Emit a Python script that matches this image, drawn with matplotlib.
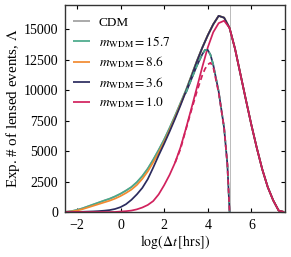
import matplotlib
matplotlib.use("Agg")
import matplotlib.pyplot as plt

plt.rcParams['font.family'] = ['Liberation Serif', 'DejaVu Serif']
plt.rcParams['mathtext.fontset'] = 'stix'

# ---- data ----
x_rise = [-2.5, -2.25, -2.0, -1.75, -1.5, -1.25, -1.0, -0.75, -0.5, -0.25,
          0.0, 0.25, 0.5, 0.75, 1.0, 1.25, 1.5, 1.75, 2.0, 2.25,
          2.5, 2.75, 3.0, 3.25, 3.5, 3.75, 4.0, 4.25, 4.5, 4.75]
x_tail = [5.0, 5.25, 5.5, 5.75, 6.0, 6.25, 6.5, 6.75, 7.0, 7.25, 7.5]

tail = [15100, 13400, 11300, 9200, 7150, 5250, 3500, 2050, 960, 120, 0]

cdm_rise = [20, 70, 170, 300, 460, 620, 780, 940, 1090, 1280,
            1500, 1760, 2050, 2450, 2950, 3560, 4300, 5100, 5950, 6900,
            7900, 8950, 10000, 11200, 12400, 13500, 14500, 15400, 16100, 15950]
m157_rise = [20, 70, 170, 300, 460, 620, 780, 940, 1090, 1280,
             1500, 1760, 2050, 2450, 2950, 3560, 4300, 5100, 5950, 6900,
             7900, 8950, 10000, 11200, 12400, 13500, 14500, 15400, 16100, 15950]
m86_rise = [10, 45, 120, 230, 370, 510, 650, 790, 930, 1100,
            1310, 1560, 1840, 2220, 2720, 3330, 4080, 4890, 5750, 6720,
            7750, 8830, 9900, 11130, 12350, 13480, 14500, 15400, 16100, 15950]
m36_rise = [0, 5, 10, 20, 35, 50, 75, 110, 160, 250,
            400, 640, 1000, 1450, 1980, 2700, 3650, 4650, 5600, 6600,
            7650, 8750, 9900, 11100, 12350, 13480, 14500, 15400, 16100, 15950]
m10_rise = [0, 0, 0, 0, 0, 0, 0, 0, 0, 5,
            40, 70, 120, 220, 370, 580, 900, 1450, 2200, 3050,
            4050, 5300, 6850, 8500, 10200, 11900, 13500, 14750, 15500, 15700]

# truncated (Δt < survey duration) curves
x_trunc_hi = [3.0, 3.25, 3.5, 3.75, 3.875, 4.0, 4.125, 4.25, 4.5, 4.75, 4.9, 5.0]
trunc_hi = [9800, 10900, 12000, 12950, 13300, 13300, 12900, 12100, 9900, 6900, 3900, 0]
x_trunc_lo = [2.5, 2.75, 3.0, 3.25, 3.5, 3.75, 3.875, 4.0, 4.125, 4.25, 4.5, 4.75, 4.9, 5.0]
trunc_lo = [4040, 5170, 6780, 8350, 9880, 11230, 11750, 12100, 12250, 11900, 9800, 6900, 3900, 0]

survey_limit = 5.0

labels = ['CDM', r'$m_{\rm WDM} = 15.7$', r'$m_{\rm WDM} = 8.6$',
          r'$m_{\rm WDM} = 3.6$', r'$m_{\rm WDM} = 1.0$']
colors = ['#a0a0a0', '#4aa98a', '#f28a30', '#2c2b5e', '#d1215d']

x_ticks = [-2, 0, 2, 4, 6]
y_ticks = [0, 2500, 5000, 7500, 10000, 12500, 15000]

# ---- figure ----
fig = plt.figure(figsize=(2.91, 2.57), dpi=100)
ax = fig.add_axes([0.223, 0.175, 0.757, 0.806])

x_full = x_rise + x_tail
series = [cdm_rise, m157_rise, m86_rise, m36_rise, m10_rise]
lw = 1.25
for vals, c, lab in zip(series, colors, labels):
    ax.plot(x_full, vals + tail, color=c, lw=lw, label=lab, solid_capstyle='butt')

ax.plot(x_trunc_hi, trunc_hi, color=colors[3], lw=lw)
ax.plot(x_trunc_hi, trunc_hi, color=colors[1], lw=lw, ls=(0, (3, 2)))
ax.plot(x_trunc_lo, trunc_lo, color=colors[4], lw=lw, ls=(0, (3, 2)))

ax.axvline(survey_limit, color='#b0b0b0', lw=0.6, zorder=0)

ax.set_xlim(-2.55, 7.55)
ax.set_ylim(0, 17000)
ax.set_xticks(x_ticks)
ax.set_yticks(y_ticks)
ax.tick_params(direction='in', top=True, right=True, labelsize=10,
               length=3, width=0.8, pad=5)
for s in ax.spines.values():
    s.set_linewidth(1.0)
    s.set_color('#333333')

ax.set_xlabel(r'$\log(\Delta t\,[\rm hrs])$', fontsize=10, labelpad=1)
ax.set_ylabel(r'Exp. # of lensed events, $\Lambda$', fontsize=10.8, labelpad=1)

ax.legend(loc='upper left', frameon=False, fontsize=9.5, handlelength=1.3,
          labelspacing=0.36, borderaxespad=0.3, handletextpad=0.7,
          borderpad=0.45, bbox_to_anchor=(-0.01, 0.99))

fig.savefig('out.png', dpi=100)
